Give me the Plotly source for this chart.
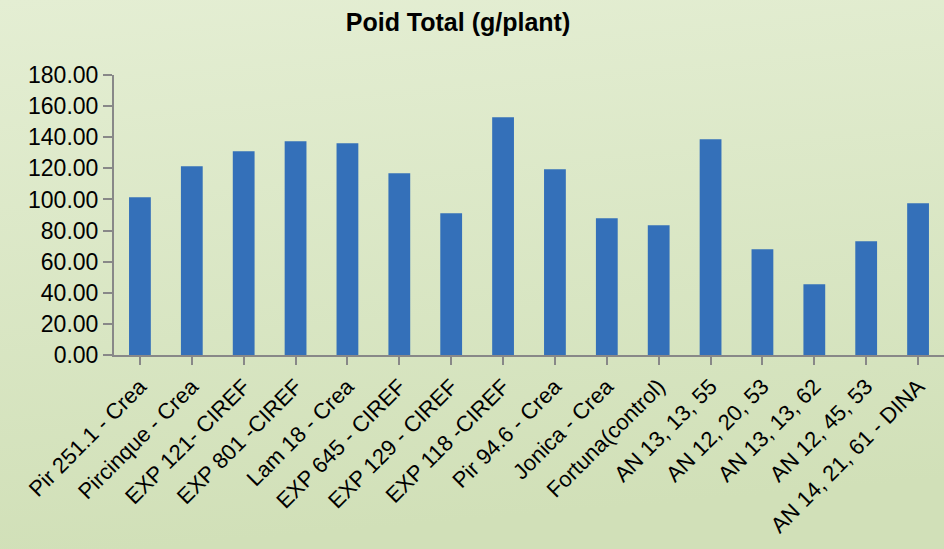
import base64
import plotly.graph_objects as go

categories = ["Pir 251.1 - Crea", "Pircinque - Crea", "EXP 121- CIREF", "EXP 801 -CIREF",
              "Lam 18 - Crea", "EXP 645 - CIREF", "EXP 129 - CIREF", "EXP 118 -CIREF",
              "Pir 94.6 - Crea", "Jonica - Crea", "Fortuna(control)", "AN 13, 13, 55",
              "AN 12, 20, 53", "AN 13, 13, 62", "AN 12, 45, 53", "AN 14, 21, 61 - DINA"]
values = [101.4, 121.3, 131.0, 137.4, 136.1, 116.8, 91.1, 152.8,
          119.4, 87.9, 83.4, 138.7, 68.0, 45.5, 73.1, 97.5]
y_ticks = [0, 20, 40, 60, 80, 100, 120, 140, 160, 180]
y_tick_labels = ["%.2f" % v for v in y_ticks]
title_text = "Poid Total (g/plant)"

W, H = 944, 549
ML, MR, MT, MB = 114, 0, 75, 194

svg = ('<svg xmlns="http://www.w3.org/2000/svg" width="100" height="100" preserveAspectRatio="none">'
       '<defs><linearGradient id="g" x1="0" y1="0" x2="0.15" y2="1">'
       '<stop offset="0" stop-color="#e4eed3"/><stop offset="1" stop-color="#d1e0b8"/>'
       '</linearGradient></defs><rect width="100" height="100" fill="url(#g)"/></svg>')
bg_uri = "data:image/svg+xml;base64," + base64.b64encode(svg.encode()).decode()

pw = W - ML - MR
ph = H - MT - MB

fig = go.Figure()
fig.add_trace(go.Bar(
    x=list(range(len(categories))), y=values,
    marker=dict(color="#3470b9", line=dict(width=0)),
    width=0.42,
))

fig.update_layout(
    width=W, height=H,
    margin=dict(l=ML, r=MR, t=MT, b=MB, pad=0),
    paper_bgcolor="#dce8c6",
    plot_bgcolor="rgba(0,0,0,0)",
    showlegend=False,
    title=dict(text="<b>%s</b>" % title_text, x=458 / W, xanchor="center", y=1 - 22 / H, yanchor="middle",
               font=dict(family="Liberation Sans, Arial", size=25, color="#000000")),
    images=[dict(source=bg_uri, xref="paper", yref="paper",
                 x=-ML / pw, y=1 + MT / ph, sizex=W / pw, sizey=H / ph,
                 xanchor="left", yanchor="top", sizing="stretch", layer="below")],
    xaxis=dict(
        range=[-0.5, 15.5],
        tickmode="array", tickvals=list(range(len(categories))), ticktext=categories,
        tickangle=-45, ticks="outside", ticklen=8, tickwidth=2, tickcolor="#888888",
        tickson="boundaries",
        showline=True, linecolor="#888888", linewidth=2,
        showgrid=False, zeroline=False,
        tickfont=dict(family="Liberation Sans, Arial", size=22, color="#000000"),
    ),
    yaxis=dict(
        range=[0, 180],
        tickmode="array", tickvals=y_ticks, ticktext=y_tick_labels,
        ticks="outside", ticklen=9, tickwidth=2, tickcolor="#888888",
        showline=True, linecolor="#888888", linewidth=2,
        showgrid=False, zeroline=False,
        tickfont=dict(family="Liberation Sans, Arial", size=23, color="#000000"),
    ),
    bargap=0.58,
)

fig.write_html("out.html", config={"displayModeBar": False},
               post_script="document.body.style.margin='0';document.body.style.overflow='hidden';")
